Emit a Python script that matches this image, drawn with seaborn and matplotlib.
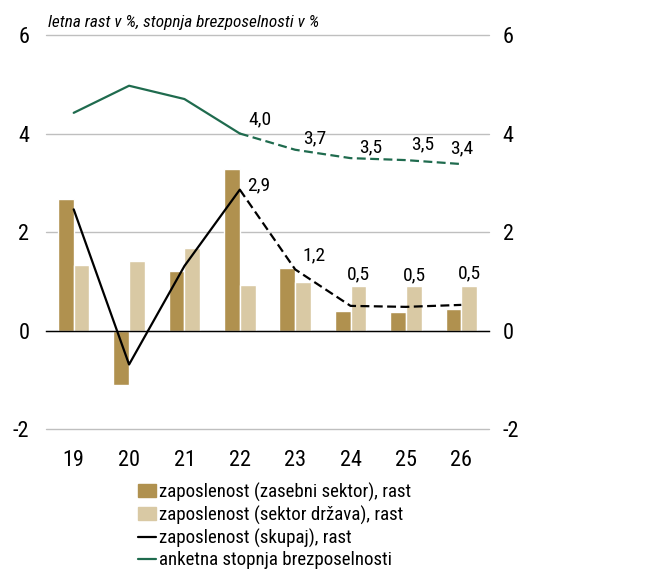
import numpy as np
import pandas as pd
import seaborn as sns
import matplotlib.pyplot as plt
from matplotlib.patches import Patch
from matplotlib.lines import Line2D

# data
leta = ['19', '20', '21', '22', '23', '24', '25', '26']
zasebni = [2.67, -1.11, 1.21, 3.27, 1.27, 0.40, 0.38, 0.44]
drzava = [1.32, 1.41, 1.68, 0.93, 0.99, 0.90, 0.90, 0.90]
skupaj = [2.46, -0.69, 1.31, 2.86, 1.24, 0.50, 0.48, 0.52]
brezposelnost = [4.42, 4.97, 4.70, 4.00, 3.67, 3.50, 3.46, 3.38]
y_ticks = [-2, 0, 2, 4, 6]
napoved_od = 3  # index where the projection (dashed) part starts

serije = ['zaposlenost (zasebni sektor), rast', 'zaposlenost (sektor država), rast',
          'zaposlenost (skupaj), rast', 'anketna stopnja brezposelnosti']
naslov = 'letna rast v %, stopnja brezposelnosti v %'

# colours
c_zasebni = '#b0914f'
c_drzava = '#d9c9a4'
c_skupaj = '#000000'
c_brezp = '#1f6b4e'
c_grid = '#bfbfbf'

sns.set_style('white')
plt.rcParams['font.family'] = ['Roboto Condensed', 'DejaVu Sans']
for k in ['text.color', 'axes.labelcolor', 'xtick.color', 'ytick.color']:
    plt.rcParams[k] = 'black'

df = pd.DataFrame({
    'leto': leta * 2,
    'vrednost': zasebni + drzava,
    'serija': [serije[0]] * len(leta) + [serije[1]] * len(leta),
})

fig = plt.figure(figsize=(6.64, 5.73), dpi=100)
ax = fig.add_axes([0.0693, 0.2513, 0.6671, 0.6876])

sns.barplot(data=df, x='leto', y='vrednost', hue='serija', palette=[c_zasebni, c_drzava],
            width=0.57, saturation=1, legend=False, ax=ax, zorder=2)

x = np.arange(len(leta))
dash = (0, (4, 2))
sns.lineplot(x=x[:napoved_od + 1], y=skupaj[:napoved_od + 1], color=c_skupaj, lw=1.6, ax=ax, zorder=3)
sns.lineplot(x=x[napoved_od:], y=skupaj[napoved_od:], color=c_skupaj, lw=1.6, ls=dash, ax=ax, zorder=3)
sns.lineplot(x=x[:napoved_od + 1], y=brezposelnost[:napoved_od + 1], color=c_brezp, lw=1.6, ax=ax, zorder=3)
sns.lineplot(x=x[napoved_od:], y=brezposelnost[napoved_od:], color=c_brezp, lw=1.6, ls=dash, ax=ax, zorder=3)

def fmt(v):
    return f'{v:.1f}'.replace('.', ',')

# data labels for the projection years
off_skupaj = [(5, 3, 'left'), (5, 10, 'left'), (6, 23, 'center'), (6, 23, 'center'), (6, 23, 'center')]
off_brezp = [(6, 10, 'left'), (6, 8, 'left'), (6, 8, 'left'), (4, 11, 'left'), (0, 11, 'center')]
for i, (dx, dy, ha) in zip(range(napoved_od, len(leta)), off_skupaj):
    ax.annotate(fmt(skupaj[i]), (x[i], skupaj[i]), xytext=(dx, dy), textcoords='offset points',
                ha=ha, va='center', fontsize=14, zorder=4)
for i, (dx, dy, ha) in zip(range(napoved_od, len(leta)), off_brezp):
    ax.annotate(fmt(brezposelnost[i]), (x[i], brezposelnost[i]), xytext=(dx, dy), textcoords='offset points',
                ha=ha, va='center', fontsize=14, zorder=4)

ax.set_xlim(-0.5, len(leta) - 0.5)
ax.set_ylim(y_ticks[0], y_ticks[-1])
ax.set_yticks(y_ticks)
ax.set_yticklabels([str(t) for t in y_ticks])
ax.set_xlabel('')
ax.set_ylabel('')

ax.yaxis.grid(True, color=c_grid, lw=1)
for g in ax.yaxis.get_gridlines():
    g.set_clip_on(False)
ax.set_axisbelow(True)
for s in ['left', 'right', 'top']:
    ax.spines[s].set_visible(False)
ax.spines['bottom'].set_position(('data', 0))
ax.spines['bottom'].set_color('black')
ax.spines['bottom'].set_linewidth(1)

ax.set_xticks(x)
ax.set_xticklabels(leta)
ax.set_xticks(np.arange(len(leta) + 1) - 0.5, minor=True)
ax.tick_params(axis='x', which='major', length=0, pad=86, labelsize=16)
ax.tick_params(axis='x', which='minor', length=4.5, width=1, color='black', direction='out')
ax.tick_params(axis='y', length=0, pad=12, labelsize=16)

ax2 = ax.twinx()
ax2.set_ylim(ax.get_ylim())
ax2.set_yticks(y_ticks)
ax2.set_yticklabels([str(t) for t in y_ticks])
ax2.tick_params(axis='y', length=0, pad=10, labelsize=16)
for s in ax2.spines.values():
    s.set_visible(False)
ax2.grid(False)

fig.text(0.072, 1 - 23 / 573, naslov, style='italic', fontsize=12.4, ha='left', va='center')

handles = [Patch(color=c_zasebni), Patch(color=c_drzava),
           Line2D([], [], color=c_skupaj, lw=1.6), Line2D([], [], color=c_brezp, lw=1.6)]
fig.legend(handles, serije, loc='upper left', bbox_to_anchor=(0.208, 0.158), frameon=False,
           fontsize=13.6, handlelength=0.95, handleheight=0.68, handletextpad=0.15,
           labelspacing=0.2, borderpad=0, borderaxespad=0)

fig.savefig('out.png', dpi=100)
